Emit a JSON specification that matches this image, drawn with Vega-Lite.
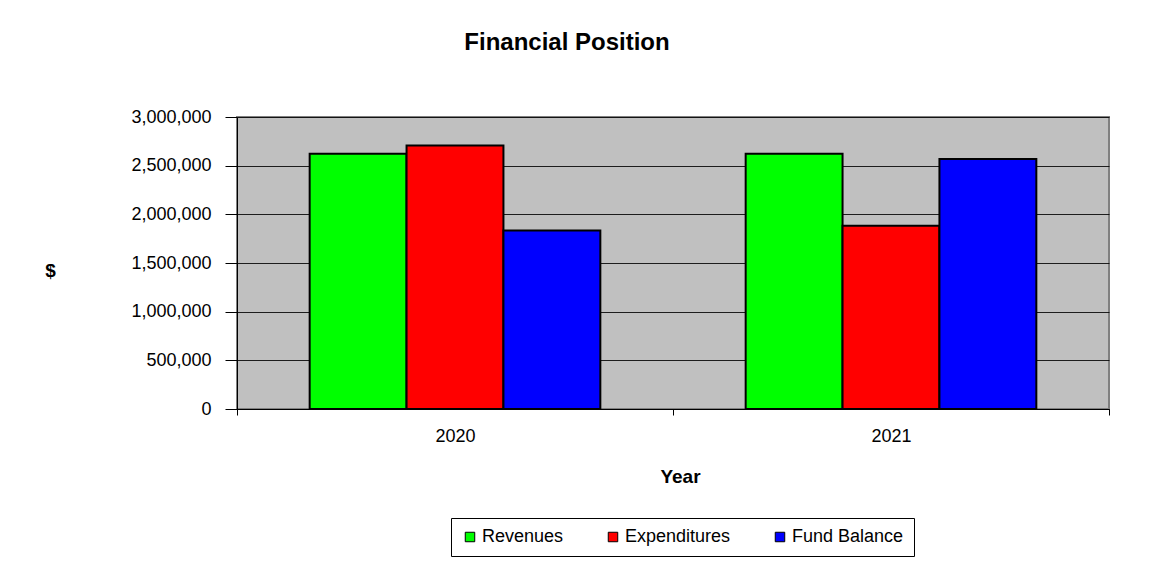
{
  "$schema": "https://vega.github.io/schema/vega-lite/v6.json",
  "width": 872,
  "height": 292,
  "autosize": {"type": "none"},
  "padding": {"left": 237, "top": 117, "right": 42, "bottom": 156},
  "background": "white",
  "title": {
    "text": "Financial Position",
    "font": "Liberation Sans",
    "fontSize": 24,
    "fontWeight": "bold",
    "color": "#000",
    "anchor": "middle",
    "dx": -106,
    "offset": 53
  },
  "data": {
    "values": [
      {"year": "2020", "category": "Revenues", "value": 2623000},
      {"year": "2020", "category": "Expenditures", "value": 2708000},
      {"year": "2020", "category": "Fund Balance", "value": 1835000},
      {"year": "2021", "category": "Revenues", "value": 2623000},
      {"year": "2021", "category": "Expenditures", "value": 1883000},
      {"year": "2021", "category": "Fund Balance", "value": 2568000}
    ]
  },
  "mark": {"type": "bar", "stroke": "#000", "strokeWidth": 2},
  "encoding": {
    "x": {
      "field": "year",
      "type": "nominal",
      "scale": {"paddingInner": 0, "paddingOuter": 0},
      "axis": {
        "title": "Year",
        "labelAngle": 0,
        "tickBand": "extent",
        "tickSize": 6,
        "labelPadding": 12,
        "labelFontSize": 18,
        "titleFontSize": 19,
        "titleX": 443,
        "titleY": 67,
        "titleBaseline": "middle",
        "titleAlign": "center"
      }
    },
    "xOffset": {
      "field": "category",
      "type": "nominal",
      "sort": ["Revenues", "Expenditures", "Fund Balance"],
      "scale": {"paddingInner": 0, "paddingOuter": 0.75}
    },
    "y": {
      "field": "value",
      "type": "quantitative",
      "scale": {"domain": [0, 3000000], "nice": false},
      "axis": {
        "title": "$",
        "values": [0, 500000, 1000000, 1500000, 2000000, 2500000, 3000000],
        "format": ",.0f",
        "tickSize": 12,
        "labelPadding": 14,
        "labelFontSize": 18,
        "titleFontSize": 19,
        "titleAngle": 0,
        "titleX": -187,
        "titleY": 153,
        "titleBaseline": "middle",
        "titleAlign": "center"
      }
    },
    "color": {
      "field": "category",
      "type": "nominal",
      "scale": {
        "domain": ["Revenues", "Expenditures", "Fund Balance"],
        "range": ["#00FF00", "#FF0000", "#0000FF"]
      },
      "legend": {
        "title": null,
        "orient": "none",
        "direction": "horizontal",
        "legendX": 214,
        "legendY": 401,
        "padding": 10,
        "strokeColor": "#000",
        "fillColor": "#fff",
        "symbolType": "square",
        "symbolSize": 90,
        "symbolStrokeColor": "#000",
        "symbolStrokeWidth": 1,
        "labelFontSize": 18,
        "labelOffset": 3,
        "columnPadding": 40,
        "labelFont": "Liberation Sans",
        "labelColor": "#000"
      }
    }
  },
  "config": {
    "font": "Liberation Sans",
    "view": {"fill": "#C0C0C0", "stroke": "#808080", "strokeWidth": 2},
    "axis": {
      "labelFont": "Liberation Sans",
      "titleFont": "Liberation Sans",
      "labelColor": "#000",
      "titleColor": "#000",
      "titleFontWeight": "bold",
      "domainColor": "#000",
      "domainWidth": 1,
      "tickColor": "#000",
      "tickWidth": 1,
      "gridColor": "#000",
      "gridWidth": 1,
      "gridOpacity": 0.85
    },
    "axisX": {"grid": false},
    "axisY": {"grid": true}
  }
}
